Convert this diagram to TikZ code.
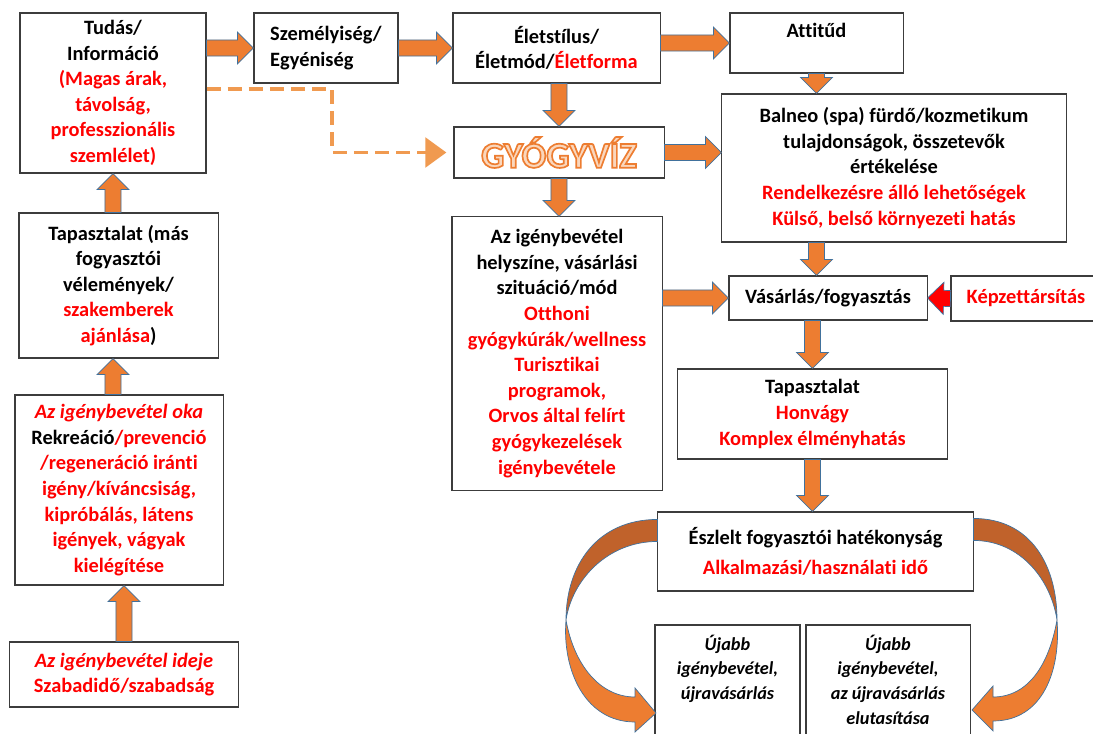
\documentclass[tikz,border=0pt]{standalone}
\usepackage{fontspec}
\setmainfont{Carlito}[Ligatures=NoCommon]
\usepackage{xcolor}
\usepackage{tikz}
\usetikzlibrary{calc}
\usetikzlibrary{arrows.meta}
\tikzset{>=latex}

\definecolor{boxline}{HTML}{3C3C3C}
\definecolor{arrowfill}{HTML}{ED7D31}
\definecolor{arrowedge}{HTML}{41719C}
\definecolor{foldfill}{HTML}{C0622B}
\definecolor{dashorange}{HTML}{F09A50}
\definecolor{gyfill}{HTML}{FAD7BD}

\newcommand{\rd}[1]{\textcolor{red}{#1}}
\newcommand{\gyv}[1]{{\color{gyfill}\special{pdf:literal direct 2 Tr 1.2 w 0.929 0.490 0.192 RG}#1\special{pdf:literal direct 0 Tr 0.4 w}}}

\tikzstyle{box} = [rectangle, draw=boxline, line width=0.75pt, align=center, inner sep=1pt, font=\bfseries\fontsize{14.5}{18.2}\selectfont]
\tikzstyle{ubox} = [rectangle, draw=boxline, line width=0.75pt, inner sep=0pt, font=\bfseries\itshape\fontsize{13}{17.5}\selectfont]
\tikzstyle{blk} = [draw=arrowedge, fill=arrowfill, line width=0.5pt, line join=miter,
  to path={let \p1=(\tikztostart), \p2=(\tikztotarget),
    \n1={atan2(\y2-\y1,\x2-\x1)}, \n2={veclen(\x2-\x1,\y2-\y1)-11.4}
    in -- ($(\p1)+(\n1+90:5.7pt)$) -- ($(\p1)+(\n1:\n2)+(\n1+90:5.7pt)$)
    -- ($(\p1)+(\n1:\n2)+(\n1+90:11.4pt)$) -- (\p2)
    -- ($(\p1)+(\n1:\n2)+(\n1-90:11.4pt)$) -- ($(\p1)+(\n1:\n2)+(\n1-90:5.7pt)$)
    -- ($(\p1)+(\n1-90:5.7pt)$) -- cycle}]
\tikzstyle{dashline} = [draw=dashorange, line width=2.8pt, dash pattern=on 10pt off 5pt, -{Triangle[length=15pt, width=21pt]}, shorten >=5pt]
\tikzstyle{fold} = [draw=arrowedge, line width=0.5pt]

\begin{document}
\begin{tikzpicture}[x=0.025cm, y=-0.025cm]
\useasboundingbox (0, 0) rectangle (1093, 734);
\clip (0, 0) rectangle (1093, 734);
% left column
\node [box, minimum width=4.65cm, minimum height=4cm] (tudas) at (113, 93) {Tudás/\\ Információ\\ \rd{(Magas árak,}\\ \rd{távolság,}\\ \rd{professzionális}\\ \rd{szemlélet)}};
\node [box, minimum width=4.975cm, minimum height=3.625cm] (tapleft) at (118.5, 285.5) {Tapasztalat (más\\ fogyasztói\\ vélemények/\\ \rd{szakemberek}\\ \rd{ajánlása})};
\node [box, minimum width=5.2cm, minimum height=4.75cm] (oka) at (119, 490) {\rd{\itshape Az igénybevétel oka}\\ Rekreáció\rd{/prevenció}\\ \rd{/regeneráció iránti}\\ \rd{igény/kíváncsiság,}\\ \rd{kipróbálás, látens}\\ \rd{igények, vágyak}\\ \rd{kielégítése}};
\node [box, minimum width=5.7cm, minimum height=1.625cm] (ideje) at (124, 674.5) {\rd{\itshape Az igénybevétel ideje}\\ \rd{Szabadidő/szabadság}};
% top row
\node [box, align=left, minimum width=3.6cm, minimum height=1.75cm] (szemely) at (326, 48) {Személyiség/\\ Egyéniség};
\node [box, minimum width=5.175cm, minimum height=1.75cm] (eletstilus) at (556.5, 48) {Életstílus/\\ Életmód/\rd{Életforma}};
\node [box, minimum width=4.325cm, minimum height=1.5cm] (attitud) at (816.5, 43) {Attitűd\\ ~};
\node [box, minimum width=5.25cm, minimum height=1.275cm, font=\bfseries\fontsize{26}{30}\selectfont] (gyogyviz) at (559, 152.5) {\gyv{GYÓGYVÍZ}};
\node [box, minimum width=8.6cm, minimum height=3.7cm] (balneo) at (894, 168) {Balneo (spa) fürdő/kozmetikum\\ tulajdonságok, összetevők\\ értékelése\\ \rd{Rendelkezésre álló lehetőségek}\\ \rd{Külső, belső környezeti hatás}};
\node [box, minimum width=5.25cm, minimum height=6.825cm] (igeny) at (557, 353.5) {Az igénybevétel\\ helyszíne, vásárlási\\ szituáció/mód\\ \rd{Otthoni}\\ \rd{gyógykúrák/wellness}\\ \rd{Turisztikai}\\ \rd{programok,}\\ \rd{Orvos által felírt}\\ \rd{gyógykezelések}\\ \rd{igénybevétele}};
\node [box, minimum width=4.95cm, minimum height=1.1cm] (vasarlas) at (828, 298) {Vásárlás/fogyasztás};
\node [box, minimum width=3.75cm, minimum height=1.125cm] (kepzet) at (1026, 298.5) {\rd{Képzettársítás}};
\node [box, minimum width=6.725cm, minimum height=2.25cm] (tapright) at (812.5, 414) {Tapasztalat\\ \rd{Honvágy}\\ \rd{Komplex élményhatás}};
\node [box, minimum width=7.875cm, minimum height=1.975cm] (eszlelt) at (815.5, 551.5) {Észlelt fogyasztói hatékonyság\\[3pt] \rd{Alkalmazási/használati idő}};
\node [ubox, minimum width=3.625cm] (ujabb1) at (727.5, 697.5) {\parbox[c][3.625cm][t]{3.5cm}{\centering\vspace{7pt}Újabb\\ igénybevétel,\\ újravásárlás}};
\node [ubox, minimum width=4.1cm] (ujabb2) at (888, 697.5) {\parbox[c][3.625cm][t]{4cm}{\centering\vspace{7pt}Újabb\\ igénybevétel,\\ az újravásárlás\\ elutasítása}};
% block arrows
\draw [blk] (tudas.east |- szemely.west) to (szemely.west);
\draw [blk] (szemely.east) to (eletstilus.west);
\draw [blk] (eletstilus.east |- attitud.west) to (attitud.west);
\draw [blk] (gyogyviz.north |- eletstilus.south) to (gyogyviz.north);
\draw [blk] (attitud.south) to (attitud.south |- balneo.north);
\draw [blk] (gyogyviz.east) to (balneo.west |- gyogyviz.east);
\draw [blk] (gyogyviz.south) to (gyogyviz.south |- igeny.north);
\draw [blk] (attitud.south |- balneo.south) to (attitud.south |- vasarlas.north);
\draw [blk] (igeny.east |- vasarlas.west) to (vasarlas.west);
\draw [blk, fill=red] (kepzet.west) to (vasarlas.east);
\draw [blk] (tapright.north |- vasarlas.south) to (tapright.north);
\draw [blk] (tapright.south) to (tapright.south |- eszlelt.north);
\draw [blk] (tudas.south |- tapleft.north) to (tudas.south);
\draw [blk] (tudas.south |- oka.north) to (tudas.south |- tapleft.south);
\draw [blk] (ideje.north) to (ideje.north |- oka.south);
% dashed link
\coordinate (dbend) at (332, 89);
\draw [dashline] (tudas.east |- dbend) -- (dbend) |- (gyogyviz.west);
% curved arrows
\coordinate (lout) at (566, 620);
\coordinate (rout) at (1057, 620);
\coordinate (ltip) at (656, 713);
\coordinate (rtip) at (972, 710);
\filldraw [fold, fill=foldfill] ($(eszlelt.north west)+(0,8)$) .. controls +(-60,0) and +(0,-55) .. (lout) .. controls +(6,-40) and +(-50,0) .. ($(eszlelt.north west)+(0,30)$) -- cycle;
\filldraw [fold, fill=arrowfill] (lout) .. controls +(8,45) and +(-35,0) .. (635, 697) -- (635, 688) -- (ltip) -- (635, 732) -- (635, 722) .. controls +(-50,0) and +(-4,50) .. (lout);
\filldraw [fold, fill=foldfill] ($(eszlelt.north east)+(0,7)$) .. controls +(57,0) and +(0,-55) .. (rout) .. controls +(-6,-40) and +(47,0) .. ($(eszlelt.north east)+(0,29)$) -- cycle;
\filldraw [fold, fill=arrowfill] (rout) .. controls +(-8,45) and +(35,0) .. (993, 697) -- (993, 686) -- (rtip) -- (993, 731) -- (993, 721) .. controls +(50,0) and +(4,50) .. (rout);
\end{tikzpicture}
\end{document}
